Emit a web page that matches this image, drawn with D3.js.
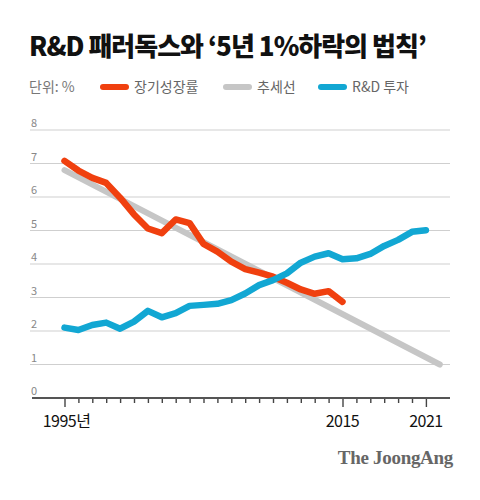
<!DOCTYPE html>
<html>
<head>
<meta charset="utf-8">
<script src="https://cdn.jsdelivr.net/npm/d3@7"></script>
<style>
  body { margin: 0; background: #fff; }
  text { font-family: "Noto Sans CJK KR", "Noto Sans", sans-serif; }
</style>
</head>
<body>
<script>
// data
var growthYears = [1995, 1996, 1997, 1998, 1999, 2000, 2001, 2002, 2003, 2004, 2005,
                   2006, 2007, 2008, 2009, 2010, 2011, 2012, 2013, 2014, 2015];
var growthValues = [7.08, 6.79, 6.57, 6.42, 5.98, 5.48, 5.06, 4.92, 5.33, 5.22, 4.60,
                    4.37, 4.07, 3.85, 3.74, 3.62, 3.44, 3.24, 3.11, 3.19, 2.87];

var rndYears = [1995, 1996, 1997, 1998, 1999, 2000, 2001, 2002, 2003, 2004, 2005,
                2006, 2007, 2008, 2009, 2010, 2011, 2012, 2013, 2014, 2015,
                2016, 2017, 2018, 2019, 2020, 2021];
var rndValues = [2.10, 2.03, 2.18, 2.25, 2.07, 2.28, 2.60, 2.41, 2.53, 2.75, 2.78,
                 2.81, 2.92, 3.12, 3.37, 3.52, 3.72, 4.04, 4.22, 4.32, 4.14,
                 4.17, 4.30, 4.54, 4.72, 4.96, 5.01];

var trendYears = [1995, 2022];
var trendValues = [6.8, 1.0];

var yTicks = [0, 1, 2, 3, 4, 5, 6, 7, 8];
var tickYears = d3.range(1995, 2022);
var majorYears = [1995, 2015, 2021];
var majorLabels = ["1995년", "2015", "2021"];

var legendNames = ["장기성장률", "추세선", "R&D 투자"];
var colors = ["#f0400f", "#c6c6c6", "#12a7d3"];

var w = 480, h = 500;

var svg = d3.select("body").append("svg")
    .attr("width", w)
    .attr("height", h);

var x = d3.scaleLinear().domain([1995, 2022]).range([64.5, 439.8]);
var y = d3.scaleLinear().domain([0, 8]).range([398, 130]);

// title
svg.append("text")
    .attr("x", 29).attr("y", 56)
    .attr("font-size", 26).attr("font-weight", 900)
    .attr("letter-spacing", "-1px")
    .attr("fill", "#111")
    .text("R&D 패러독스와 ‘5년 1%하락의 법칙’");

// legend
svg.append("text")
    .attr("x", 29).attr("y", 92)
    .attr("font-size", 14).attr("fill", "#777")
    .text("단위: %");

var legX = [100, 223, 318];
legendNames.forEach(function (name, i) {
    svg.append("line")
        .attr("x1", legX[i] + 3).attr("x2", legX[i] + 26)
        .attr("y1", 87).attr("y2", 87)
        .attr("stroke", colors[i]).attr("stroke-width", 6)
        .attr("stroke-linecap", "round");
    svg.append("text")
        .attr("x", legX[i] + 34).attr("y", 92)
        .attr("font-size", 14).attr("fill", "#666")
        .text(name);
});

// grid + y labels
var grid = svg.append("g");
grid.selectAll("line")
    .data(yTicks.filter(function (d) { return d > 0; }))
    .enter().append("line")
    .attr("x1", 30).attr("x2", 450)
    .attr("y1", function (d) { return y(d); })
    .attr("y2", function (d) { return y(d); })
    .attr("stroke", "#cfcfcf").attr("stroke-width", 1);

grid.selectAll("text")
    .data(yTicks)
    .enter().append("text")
    .attr("x", 31)
    .attr("y", function (d) { return y(d) - 3; })
    .attr("font-size", 11).attr("fill", "#888")
    .text(function (d) { return d; });

// x axis
var axis = svg.append("g")
    .attr("transform", "translate(0," + y(0) + ")")
    .call(d3.axisBottom(x).tickValues(tickYears).tickSize(5).tickFormat(""));
axis.select(".domain").remove();
axis.selectAll(".tick line")
    .attr("stroke", "#444").attr("stroke-width", 1.4)
    .attr("y2", function (d) { return majorYears.indexOf(d) >= 0 ? 9 : 5; });

axis.append("line")
    .attr("x1", 32).attr("x2", 450)
    .attr("stroke", "#555").attr("stroke-width", 2);

svg.append("g").selectAll("text")
    .data(majorYears)
    .enter().append("text")
    .attr("x", function (d, i) { return x(d) + (i === 0 ? 2 : 0); })
    .attr("y", 427)
    .attr("text-anchor", "middle")
    .attr("font-size", 16).attr("fill", "#111")
    .attr("letter-spacing", "-0.5px")
    .text(function (d, i) { return majorLabels[i]; });

// lines
var line = d3.line()
    .x(function (d) { return x(d[0]); })
    .y(function (d) { return y(d[1]); });

svg.append("path")
    .datum(d3.zip(trendYears, trendValues))
    .attr("d", line)
    .attr("fill", "none").attr("stroke", colors[1])
    .attr("stroke-width", 6).attr("stroke-linecap", "round");

svg.append("path")
    .datum(d3.zip(growthYears, growthValues))
    .attr("d", line)
    .attr("fill", "none").attr("stroke", colors[0])
    .attr("stroke-width", 6.5).attr("stroke-linecap", "round")
    .attr("stroke-linejoin", "round");

svg.append("path")
    .datum(d3.zip(rndYears, rndValues))
    .attr("d", line)
    .attr("fill", "none").attr("stroke", colors[2])
    .attr("stroke-width", 6.5).attr("stroke-linecap", "round")
    .attr("stroke-linejoin", "round");

// logo
svg.append("text")
    .attr("x", 453).attr("y", 464)
    .attr("text-anchor", "end")
    .style("font-family", "'Liberation Serif', 'DejaVu Serif', serif")
    .attr("font-weight", "bold")
    .attr("font-size", 19)
    .attr("letter-spacing", "-0.3px")
    .attr("fill", "#666")
    .text("The JoongAng");
</script>
</body>
</html>
